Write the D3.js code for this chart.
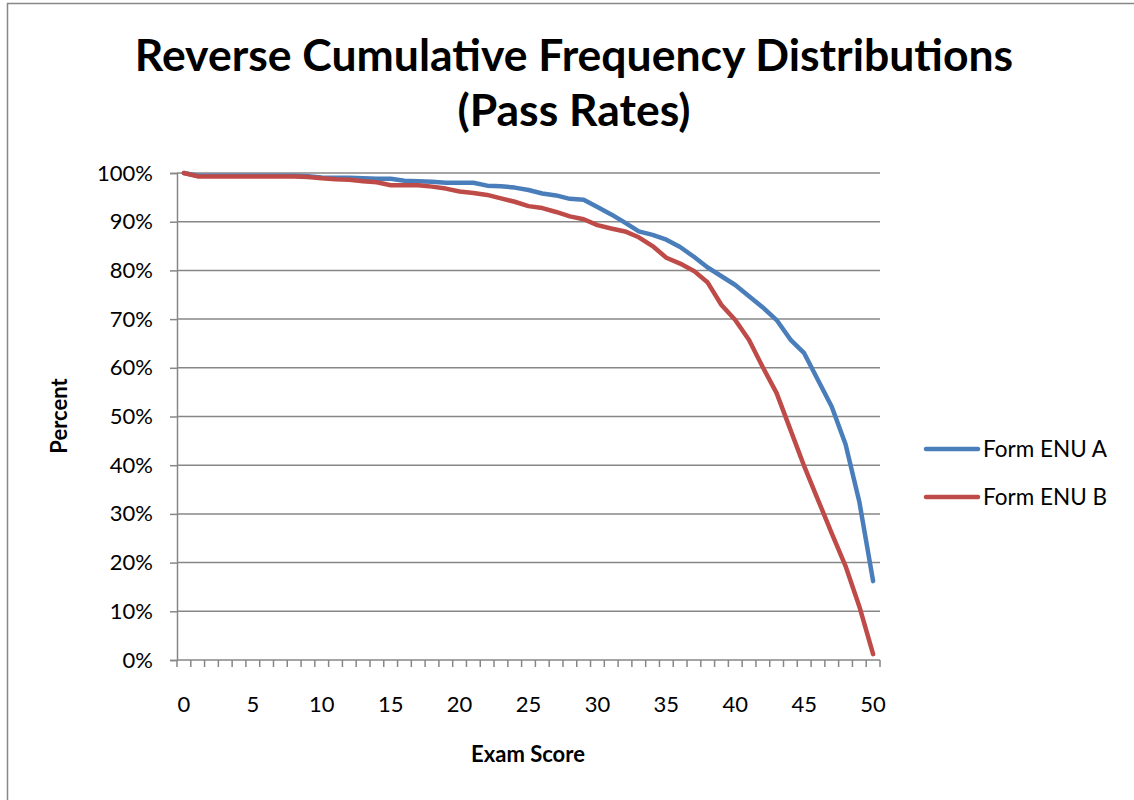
<!DOCTYPE html>
<html>
<head>
<meta charset="utf-8">
<script src="https://cdn.jsdelivr.net/npm/d3@7"></script>
<style>
  html, body { margin: 0; padding: 0; background: #fff; overflow: hidden; }
  svg { display: block; }
  text { font-family: Lato, "Open Sans", "Liberation Sans", sans-serif; fill: #000; }
</style>
</head>
<body>
<svg id="chart" width="1134" height="800"></svg>
<script>
// Exam scores 0..50 on the category axis
const scores = d3.range(0, 51);

// Share of candidates scoring at or above each score (percent)
const formA = [
  100, 99.45, 99.45, 99.45, 99.45, 99.45, 99.45, 99.45, 99.45, 99.35,
  99.1, 99.0, 99.0, 98.9, 98.8, 98.8, 98.4, 98.3, 98.2, 98.0,
  98.0, 98.0, 97.4, 97.3, 97.0, 96.5, 95.8, 95.4, 94.7, 94.5,
  93.0, 91.5, 89.8, 88.0, 87.3, 86.3, 84.8, 82.8, 80.6, 78.8,
  77.0, 74.7, 72.4, 69.8, 65.8, 63.0, 57.5, 52.0, 44.3, 32.5,
  16.2
];
const formB = [
  100, 99.3, 99.3, 99.3, 99.3, 99.3, 99.3, 99.3, 99.3, 99.2,
  98.9, 98.7, 98.6, 98.3, 98.1, 97.5, 97.5, 97.5, 97.2, 96.8,
  96.2, 95.9, 95.5, 94.8, 94.1, 93.2, 92.8, 92.0, 91.1, 90.5,
  89.3, 88.6, 88.0, 86.8, 85.0, 82.6, 81.4, 79.9, 77.5, 72.9,
  69.8, 65.7, 60.1, 54.8, 47.3, 39.8, 32.9, 26.0, 19.3, 11.0,
  1.2
];

const seriesNames = ["Form ENU A", "Form ENU B"];
const seriesColors = ["#4A7EBB", "#BE4B48"];
const yTicks = [0, 10, 20, 30, 40, 50, 60, 70, 80, 90, 100];
const xLabels = [0, 5, 10, 15, 20, 25, 30, 35, 40, 45, 50];

const titleLines = ["Reverse Cumulative Frequency Distributions", "(Pass Rates)"];

const svg = d3.select("#chart");
const plot = { left: 177, right: 880, top: 173, bottom: 660 };
const gridColor = "#878787";

// chart frame
svg.append("rect")
  .attr("x", 7.5).attr("y", 3.5)
  .attr("width", 1200).attr("height", 900)
  .attr("fill", "none").attr("stroke", gridColor).attr("stroke-width", 1.5);

// title
svg.selectAll("text.title").data(titleLines).enter().append("text")
  .attr("class", "title")
  .attr("x", 574).attr("y", (d, i) => 71 + i * 55)
  .attr("text-anchor", "middle")
  .style("font-size", "44.5px").style("font-weight", "bold")
  .text(d => d);

const x = d3.scalePoint().domain(scores).range([plot.left, plot.right]).padding(0.5);
const xBand = d3.scaleBand().domain(scores).range([plot.left, plot.right]).paddingInner(0).paddingOuter(0);
const y = d3.scaleLinear().domain([0, 100]).range([plot.bottom, plot.top]);

// horizontal gridlines
svg.append("g").selectAll("line").data(yTicks.filter(t => t > 0)).enter().append("line")
  .attr("x1", plot.left).attr("x2", plot.right)
  .attr("y1", d => y(d)).attr("y2", d => y(d))
  .attr("stroke", gridColor).attr("stroke-width", 1.5);

// y axis
const yAxis = d3.axisLeft(y).tickValues(yTicks).tickSize(7).tickPadding(17)
  .tickFormat(d => d + "%");
const gy = svg.append("g").attr("transform", `translate(${plot.left},0)`).call(yAxis);
gy.select(".domain").attr("stroke", gridColor).attr("stroke-width", 1.5);
gy.selectAll(".tick line").attr("stroke", gridColor).attr("stroke-width", 1.5);
gy.selectAll(".tick text").style("font-size", "22px").style("font-family", "Lato, 'Open Sans', sans-serif").attr("fill", "#000");

// x axis line and tick marks between categories
svg.append("line")
  .attr("x1", plot.left).attr("x2", plot.right)
  .attr("y1", plot.bottom).attr("y2", plot.bottom)
  .attr("stroke", gridColor).attr("stroke-width", 1.5);
const boundaries = scores.map(s => xBand(s)).concat([plot.right]);
svg.append("g").selectAll("line").data(boundaries).enter().append("line")
  .attr("x1", d => d).attr("x2", d => d)
  .attr("y1", plot.bottom).attr("y2", plot.bottom + 7)
  .attr("stroke", gridColor).attr("stroke-width", 1.5);

svg.append("g").selectAll("text").data(xLabels).enter().append("text")
  .attr("x", d => x(d)).attr("y", 712)
  .attr("text-anchor", "middle")
  .style("font-size", "22px")
  .text(d => d);

// axis titles
svg.append("text")
  .attr("transform", "translate(67,416) rotate(-90)")
  .attr("text-anchor", "middle")
  .style("font-size", "22px").style("font-weight", "bold")
  .text("Percent");
svg.append("text")
  .attr("x", 528).attr("y", 762)
  .attr("text-anchor", "middle")
  .style("font-size", "22px").style("font-weight", "bold")
  .text("Exam Score");

// series lines
const line = d3.line().x((d, i) => x(scores[i])).y(d => y(d));
[formA, formB].forEach((vals, k) => {
  svg.append("path")
    .datum(vals)
    .attr("d", line)
    .attr("fill", "none")
    .attr("stroke", seriesColors[k])
    .attr("stroke-width", 4.5)
    .attr("stroke-linejoin", "round")
    .attr("stroke-linecap", "round");
});

// legend
const legend = svg.append("g").selectAll("g").data(seriesNames).enter().append("g")
  .attr("transform", (d, i) => `translate(926,${449 + i * 48})`);
legend.append("line")
  .attr("x1", 0).attr("x2", 52).attr("y1", 0).attr("y2", 0)
  .attr("stroke", (d, i) => seriesColors[i]).attr("stroke-width", 4.5)
  .attr("stroke-linecap", "round");
legend.append("text")
  .attr("x", 57).attr("y", 8)
  .style("font-size", "22.5px")
  .text(d => d);
</script>
</body>
</html>
